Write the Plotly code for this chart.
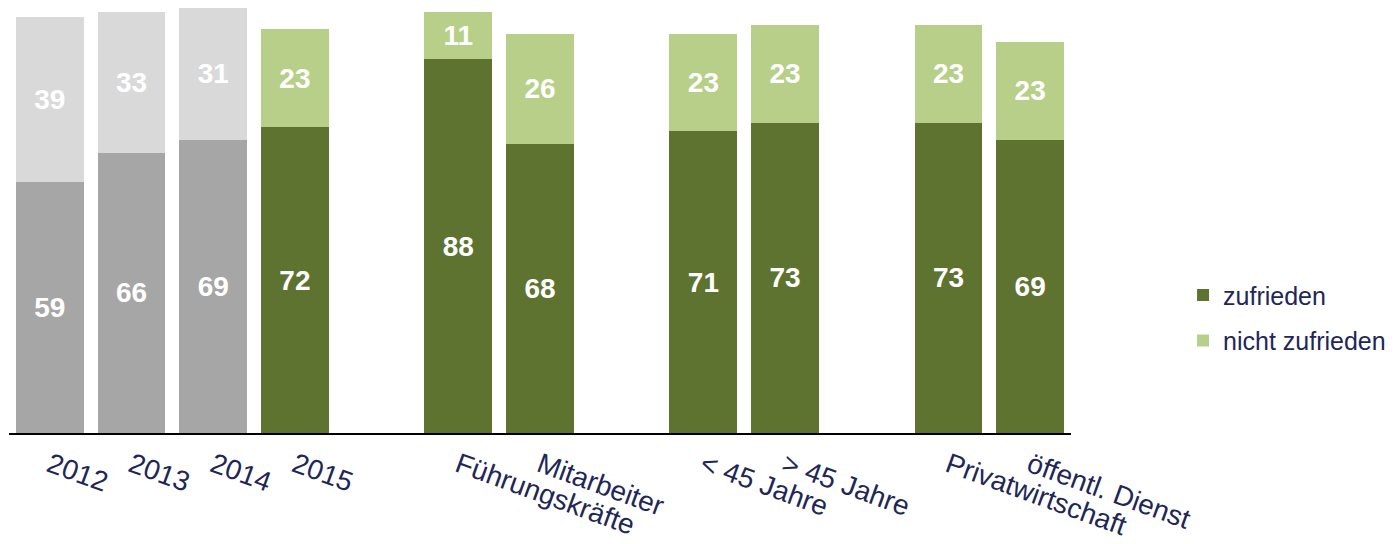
import plotly.graph_objects as go

# categories (blank spacers keep the gaps between groups)
years = ["2012", "2013", "2014"]
groups = ["2015", "Führungskräfte", "Mitarbeiter", "< 45 Jahre", "> 45 Jahre",
          "Privatwirtschaft", "öffentl. Dienst"]
category_order = ["2012", "2013", "2014", "2015", " ",
                  "Führungskräfte", "Mitarbeiter", "  ",
                  "< 45 Jahre", "> 45 Jahre", "   ",
                  "Privatwirtschaft", "öffentl. Dienst"]

years_zufrieden = [59, 66, 69]
years_nicht = [39, 33, 31]
groups_zufrieden = [72, 88, 68, 71, 73, 73, 69]
groups_nicht = [23, 11, 26, 23, 23, 23, 23]

DARK_GREEN = "#5E7330"
LIGHT_GREEN = "#B8CF89"
DARK_GRAY = "#A6A6A6"
LIGHT_GRAY = "#D9D9D9"
NAVY = "#1F2757"
FONT = "Liberation Sans, Arial, sans-serif"

bar_text = dict(family=FONT, size=28, color="white")

fig = go.Figure()

fig.add_trace(go.Bar(
    x=years, y=years_zufrieden, marker_color=DARK_GRAY, showlegend=False,
    text=years_zufrieden, texttemplate="<b>%{text}</b>",
))
fig.add_trace(go.Bar(
    x=groups, y=groups_zufrieden, marker_color=DARK_GREEN, name="zufrieden",
    legendgroup="a", text=groups_zufrieden, texttemplate="<b>%{text}</b>",
))
fig.add_trace(go.Bar(
    x=years, y=years_nicht, marker_color=LIGHT_GRAY, showlegend=False,
    text=years_nicht, texttemplate="<b>%{text}</b>",
))
fig.add_trace(go.Bar(
    x=groups, y=groups_nicht, marker_color=LIGHT_GREEN, name="nicht zufrieden",
    legendgroup="b", text=groups_nicht, texttemplate="<b>%{text}</b>",
))

fig.update_traces(
    textposition="inside", insidetextanchor="middle", textangle=0,
    textfont=bar_text, marker_line_width=0, hoverinfo="skip",
)

# page body adds an 8px offset, so the figure is a bit smaller than the window
fig.update_layout(
    barmode="stack",
    bargap=0.17,
    width=1391,
    height=536,
    margin=dict(l=1, r=328, t=0, b=111, autoexpand=False),
    paper_bgcolor="white",
    plot_bgcolor="white",
    font=dict(family=FONT, color=NAVY),
    uniformtext=dict(mode="show", minsize=28),
    legend=dict(
        x=1.1055, y=0.378, xanchor="left", yanchor="top",
        traceorder="grouped", tracegroupgap=10,
        font=dict(family=FONT, size=25, color=NAVY),
        bgcolor="rgba(0,0,0,0)",
    ),
    xaxis=dict(
        type="category",
        categoryorder="array",
        categoryarray=category_order,
        range=[-0.5, len(category_order) - 0.5],
        tickangle=20,
        ticklabelstandoff=3,
        tickfont=dict(family=FONT, size=28, color=NAVY),
        showline=True, linecolor="black", linewidth=2,
        ticks="", showgrid=False, zeroline=False,
        automargin=False,
    ),
    yaxis=dict(
        range=[0, 100],
        visible=False,
    ),
)

fig.write_html("out.html")
